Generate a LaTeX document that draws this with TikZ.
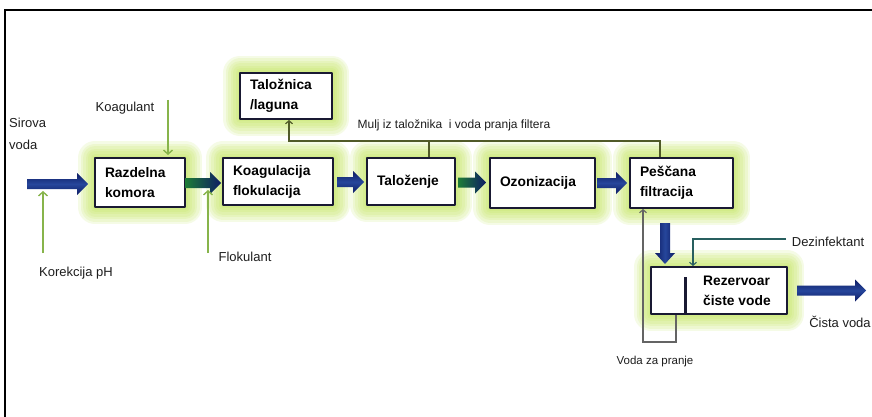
\documentclass[tikz,border=0pt]{standalone}
\usepackage{fontspec}
\setmainfont{Liberation Sans}
\usetikzlibrary{arrows.meta,calc}
\definecolor{boxline}{RGB}{25,25,50}
\definecolor{glowc}{RGB}{190,228,80}
\definecolor{navy}{RGB}{14,28,100}
\definecolor{navyhi}{RGB}{38,70,155}
\definecolor{arrgreen}{RGB}{30,125,55}
\definecolor{lgreen}{RGB}{135,180,75}
\definecolor{olivel}{RGB}{80,90,40}
\definecolor{tealln}{RGB}{40,95,95}
\definecolor{txt}{RGB}{30,30,30}
\definecolor{grayln}{RGB}{100,100,100}

\newcommand\hfat[3]{%
  \shade[#3] let \p1=(#1), \p2=(#2) in
    (\x1,\y1+5pt) -- (\x2-11pt,\y1+5pt) -- (\x2-11pt,\y1+11pt) -- (\x2,\y1)
    -- (\x2-11pt,\y1-11pt) -- (\x2-11pt,\y1-5pt) -- (\x1,\y1-5pt) -- cycle;}
\newcommand\vfat[2]{%
  \shade[left color=navy,right color=navy,middle color=navyhi] let \p1=(#1), \p2=(#2) in
    (\x1-5pt,\y1) -- (\x1-5pt,\y2+11pt) -- (\x1-10pt,\y2+11pt) -- (\x1,\y2)
    -- (\x1+10pt,\y2+11pt) -- (\x1+5pt,\y2+11pt) -- (\x1+5pt,\y1) -- cycle;}

\begin{document}
\begin{tikzpicture}[x=1pt,y=-1pt,
  gl/.style={preaction={draw=glowc, draw opacity=0.14, line width=#1, line join=round}},
  glowbox/.style={draw=boxline, line width=2pt, fill=white, line join=round,
    gl=34pt, gl=29pt, gl=24pt, gl=19pt, gl=14pt, gl=9pt, gl=5pt,
    inner xsep=10pt, inner ysep=0pt, align=left, text=black,
    font=\fontsize{13.8}{20}\selectfont\bfseries},
  lbl/.style={text=txt, inner sep=0pt, font=\fontsize{13}{22}\selectfont},
  navysh/.style={top color=navy, bottom color=navy, middle color=navyhi},
  greensh/.style={left color=arrgreen, right color=navy},
  thinarr/.style={line width=1.4pt, lgreen, -{Straight Barb[length=4pt,width=9pt]}},
  fbline/.style={line width=1.2pt, olivel},
  ]
\useasboundingbox (0,0) rectangle (872,417);
\fill[white] (0,0) rectangle (872,417);
\draw[line width=1.2pt, black] (5,417) -- (5,10) -- (872,10);

% boxes
\node[glowbox, minimum width=90pt, minimum height=49pt, text width=70pt] (raz) at (140,182.5) {Razdelna\\komora};
\node[glowbox, minimum width=110pt, minimum height=47pt, text width=90pt] (koag) at (278,181.5) {Koagulacija\\flokulacija};
\node[glowbox, minimum width=92pt, minimum height=46pt, text width=72pt] (talz) at (286,96) {Taložnica\\/laguna};
\node[glowbox, minimum width=88pt, minimum height=47pt, text width=68pt] (tal) at (411,181.5) {Taloženje};
\node[glowbox, minimum width=105pt, minimum height=50pt, text width=85pt] (ozo) at (542.5,183) {Ozonizacija};
\node[glowbox, minimum width=103pt, minimum height=50pt, text width=83pt] (pes) at (681.5,183) {Peščana\\filtracija};
\node[glowbox, minimum width=136pt, minimum height=47pt, text width=116pt] (rez) at (719,290.5) {};
\node[anchor=west, inner sep=0pt, align=left, font=\fontsize{13.8}{20}\selectfont\bfseries] (rezt) at (703,290.5) {Rezervoar\\čiste vode};
\coordinate (bar) at (685,277);
\draw[line width=3pt, boxline] (bar) -- (bar |- rez.south);

% fat arrows
\coordinate (src) at (27,184);
\coordinate (srce) at (88,184);
\coordinate (outp) at (866,290);
\hfat{src}{srce}{navysh}
\hfat{$(raz.east)+(-1,0.5)$}{$(koag.west)+(-1,0)$}{greensh}
\hfat{$(koag.east)+(3,0.5)$}{$(tal.west)+(-2,0.5)$}{navysh}
\hfat{$(tal.east)+(2,1)$}{$(ozo.west)+(-3,0)$}{greensh}
\hfat{$(ozo.east)+(1,0)$}{$(pes.west)+(-2,0)$}{navysh}
\vfat{$(pes.south)+(-16.5,14)$}{$(rez.north)+(-54,-2)$}
\hfat{$(rez.east)+(9,0)$}{outp}{navysh}

% labels
\node[lbl, anchor=west, align=left] (sv) at (9,134) {Sirova\\voda};
\node[lbl] (kgl) at (125,108) {Koagulant};
\node[lbl] (kpl) at (76,273) {Korekcija pH};
\node[lbl] (fkl) at (245,257) {Flokulant};
\node[lbl, font=\fontsize{12}{14}\selectfont] (ml) at (454,125) {Mulj iz taložnika \ i voda pranja filtera};
\node[lbl] (dzl) at (828,242) {Dezinfektant};
\node[lbl] (cv) at (840,322) {Čista voda};
\node[lbl, font=\fontsize{11.5}{14}\selectfont] (vzp) at (655,362) {Voda za pranje};

% thin green arrows
\coordinate (kg) at (168,100);
\draw[thinarr, shorten >=2pt] (kg) -- (kg |- raz.north);
\coordinate (kp) at (43,253);
\coordinate (kpe) at (43,191);
\draw[thinarr] (kp) -- (kpe);
\coordinate (fk) at (208,253);
\coordinate (fke) at (208,190);
\draw[thinarr] (fk) -- (fke);

% feedback line
\coordinate (fbR) at (660,141);
\coordinate (fbL) at (289,141);
\coordinate (fbM) at (429,141);
\draw[fbline, -{Straight Barb[length=3pt,width=7pt]}] (fbR |- pes.north) -- (fbR) -- (fbL) -- (fbL |- talz.south);
\draw[fbline] (fbM |- tal.north) -- (fbM);

% dezinfektant
\coordinate (dz) at (786,239);
\coordinate (dzc) at (693,239);
\draw[line width=1.1pt, tealln, -{Straight Barb[length=3pt,width=7pt]}] (dz) -- (dzc) -- (dzc |- rez.north);

% voda za pranje
\coordinate (vp1) at (676,342);
\coordinate (vp2) at (643,342);
\draw[line width=1.1pt, grayln, -{Straight Barb[length=3pt,width=7pt]}] (vp1 |- rez.south) -- (vp1) -- (vp2) -- (vp2 |- pes.south);
\end{tikzpicture}
\end{document}
